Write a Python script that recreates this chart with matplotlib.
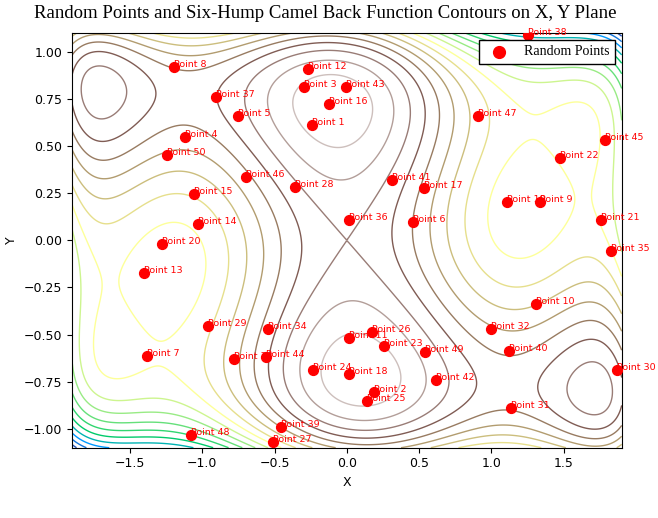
import numpy as np
import matplotlib
matplotlib.use('Agg')
import matplotlib.pyplot as plt

# Random points, Point 1 .. Point 50
px = [-0.238, 0.189, -0.294, -1.117, -0.752, 0.456, -1.380, -1.193, 1.338, 1.311,
      0.018, -0.271, -1.403, -1.032, -1.059, -0.120, 0.536, 0.018, 1.109, -1.275,
      1.758, 1.474, 0.254, -0.237, 0.137, 0.174, -0.507, -0.356, -0.959, 1.870,
      1.134, 0.997, -0.778, -0.542, 1.827, 0.018, -0.906, 1.252, -0.458, 1.123,
      0.314, 0.619, -0.007, -0.557, 1.785, -0.699, 0.910, -1.078, 0.543, -1.243]
py = [0.613, -0.802, 0.814, 0.548, 0.662, 0.095, -0.613, 0.921, 0.206, -0.338,
      -0.516, 0.910, -0.174, 0.088, 0.247, 0.721, 0.276, -0.708, 0.202, -0.019,
      0.107, 0.438, -0.558, -0.687, -0.852, -0.488, -1.069, 0.284, -0.453, -0.687,
      -0.891, -0.470, -0.627, -0.470, -0.058, 0.107, 0.761, 1.091, -0.988, -0.586,
      0.319, -0.743, 0.815, -0.619, 0.535, 0.338, 0.662, -1.035, -0.593, 0.453]
labels = ['Point %d' % (i + 1) for i in range(len(px))]

title = 'Random Points and Six-Hump Camel Back Function Contours on X, Y Plane'


def camel(x, y):
    return (4 - 2.1 * x**2 + x**4 / 3) * x**2 + x * y + (-4 + 4 * y**2) * y**2


xg = np.linspace(-1.9, 1.9, 400)
yg = np.linspace(-1.1, 1.1, 400)
X, Y = np.meshgrid(xg, yg)
Z = camel(X, Y)
levels = np.linspace(-1.5, 6.0, 21)

fig = plt.figure(figsize=(6.58, 5.18), dpi=100)
ax = fig.add_axes([0.1094, 0.1357, 0.8354, 0.8006])
ax.contour(X, Y, Z, levels=levels, cmap='terrain_r', linewidths=1.0)
ax.scatter(px, py, c='red', s=50, label='Random Points', zorder=3)
for x, y, t in zip(px, py, labels):
    ax.text(x, y, t, color='red', fontsize=6.8, zorder=4)

ax.set_xlim(-1.9, 1.9)
ax.set_ylim(-1.1, 1.1)
ax.set_xlabel('X', fontsize=9)
ax.set_ylabel('Y', fontsize=9)
ax.tick_params(labelsize=9)
ax.legend(loc='upper right', prop={'family': 'Liberation Serif', 'size': 10},
          fancybox=False, edgecolor='black', framealpha=1, markerscale=1.2)

fig.text(0.494, 1 - 18.3 / 518, title, ha='center', va='baseline',
         family='Liberation Serif', fontsize=13.5)
fig.savefig('out.png', dpi=100)
